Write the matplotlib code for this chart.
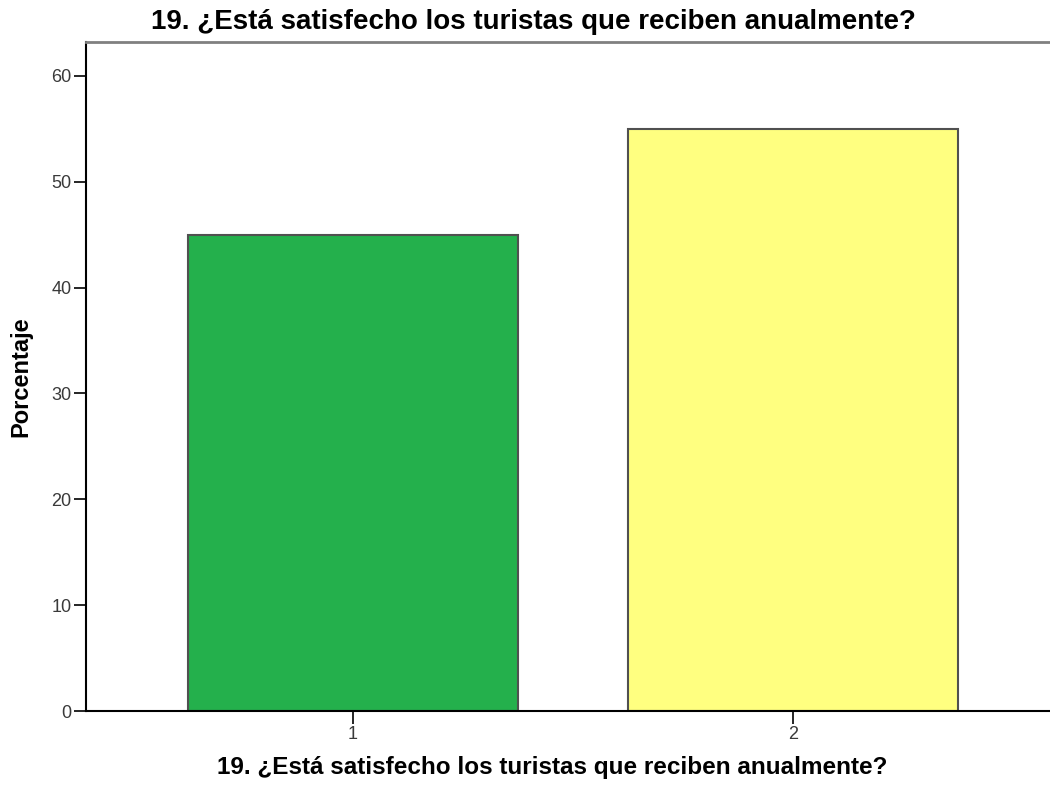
import matplotlib
matplotlib.use('Agg')
import matplotlib.pyplot as plt

categories = ['1', '2']
positions = [1, 2]
percentages = [45.0, 55.0]
bar_colors = ['#24b04c', '#ffff80']
yticks = [0, 10, 20, 30, 40, 50, 60]
title = '19. ¿Está satisfecho los turistas que reciben anualmente?'

plt.rcParams['font.family'] = ['Liberation Sans', 'DejaVu Sans']

fig = plt.figure(figsize=(10.5, 7.87), dpi=100)
ax = fig.add_axes([86 / 1050, 76 / 787, 974 / 1050, 669 / 787])

ax.bar(positions, percentages, width=0.75, color=bar_colors,
       edgecolor='#505050', linewidth=1.5, zorder=2)

ax.set_xlim(0.393, 2.607)
ax.set_ylim(0, 63.2)
ax.set_xticks(positions)
ax.set_xticklabels(categories)
ax.set_yticks(yticks)
ax.tick_params(axis='both', direction='out', length=9, width=1.2, pad=1.5,
               labelsize=13, colors='black', labelcolor='#3a3a3a')

ax.spines['left'].set_linewidth(1.5)
ax.spines['bottom'].set_linewidth(1.5)
ax.spines['top'].set_color('#808080')
ax.spines['top'].set_linewidth(2)
ax.spines['right'].set_visible(False)

ax.set_ylabel('Porcentaje', fontsize=17, fontweight='bold', va='center')
ax.yaxis.set_label_coords(-0.067, 0.5)
ax.set_xlabel(title, fontsize=17.5, fontweight='bold', va='center')
ax.xaxis.set_label_coords(0.479, -0.085)
fig.text(0.508, 0.972, title, ha='center', va='center', fontsize=20,
         fontweight='bold')

fig.savefig('out.png', dpi=100)
